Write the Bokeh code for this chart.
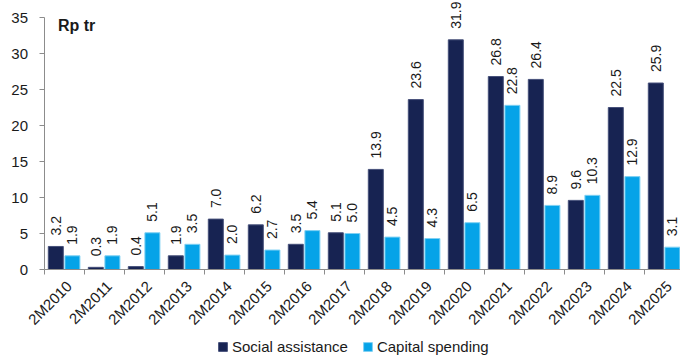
import math
from bokeh.plotting import figure
from bokeh.models import (ColumnDataSource, Range1d, FixedTicker, Legend, LegendItem, Label)
from bokeh.core.properties import value
from bokeh.embed import file_html
from bokeh.resources import INLINE

categories = ["2M2010", "2M2011", "2M2012", "2M2013", "2M2014", "2M2015", "2M2016", "2M2017",
              "2M2018", "2M2019", "2M2020", "2M2021", "2M2022", "2M2023", "2M2024", "2M2025"]
social_assistance = [3.2, 0.3, 0.4, 1.9, 7.0, 6.2, 3.5, 5.1, 13.9, 23.6, 31.9, 26.8, 26.4, 9.6, 22.5, 25.9]
capital_spending = [1.9, 1.9, 5.1, 3.5, 2.0, 2.7, 5.4, 5.0, 4.5, 4.3, 6.5, 22.8, 8.9, 10.3, 12.9, 3.1]
y_ticks = [0, 5, 10, 15, 20, 25, 30, 35]

DARK = "#172352"
LIGHT = "#05a3e8"
FONT = "Liberation Sans"
TXT = "#1a1a1a"

idx = list(range(len(categories)))
src = ColumnDataSource(dict(
    xs=[i - 0.205 for i in idx],
    xc=[i + 0.21 for i in idx],
    s=social_assistance,
    c=capital_spending,
    sl=[f"{v:.1f}" for v in social_assistance],
    cl=[f"{v:.1f}" for v in capital_spending],
))

# frame fills the whole canvas; y=0 at pixel row 269 (7.2 px/unit), categories 40 px wide
PX = 7.2
CW = 40.0
p = figure(frame_width=680, frame_height=363, output_backend="svg", toolbar_location=None,
           x_range=Range1d(-0.5 - 43.5 / CW, -0.5 + (680 - 43.5) / CW),
           y_range=Range1d(-(363 - 269) / PX, 269 / PX),
           min_border_left=0, min_border_right=0, min_border_top=0, min_border_bottom=0)
p.outline_line_color = None
p.xgrid.visible = False
p.ygrid.visible = False
p.background_fill_color = "white"
p.border_fill_color = "white"

r1 = p.vbar(x="xs", top="s", width=0.375, source=src, fill_color=DARK, line_color="#46507a", line_width=1)
r2 = p.vbar(x="xc", top="c", width=0.375, source=src, fill_color=LIGHT, line_color="#7fd0f3", line_width=1)

for xcol, ycol, lcol in (("xs", "s", "sl"), ("xc", "c", "cl")):
    p.text(x=xcol, y=ycol, text=lcol, source=src, angle=math.pi / 2, text_align="left",
           text_baseline="middle", y_offset=-11, text_font=value(FONT), text_font_size="14px",
           text_color=TXT)

# y axis, pinned at the left category boundary
ya = p.yaxis[0]
ya.fixed_location = -0.5
ya.ticker = FixedTicker(ticks=y_ticks)
ya.bounds = (0, 35)
ya.axis_line_color = "#8c8c8c"
ya.major_tick_line_color = "#8c8c8c"
ya.major_tick_out = 5
ya.major_tick_in = 0
ya.minor_tick_line_color = None
ya.major_label_text_font = FONT
ya.major_label_text_font_size = "15px"
ya.major_label_text_color = TXT
ya.major_label_standoff = 11

# x axis, pinned at y = 0; labels anchored slightly right of category centre
label_pos = [i + 0.125 for i in idx]
xa = p.xaxis[0]
xa.fixed_location = 0
xa.bounds = (-0.5, 15.5)
xa.ticker = FixedTicker(ticks=label_pos, minor_ticks=[i - 0.5 for i in range(len(categories) + 1)])
xa.major_label_overrides = {t: c for t, c in zip(label_pos, categories)}
xa.axis_line_color = "#8c8c8c"
xa.major_tick_line_color = None
xa.major_tick_out = 0
xa.major_tick_in = 0
xa.minor_tick_line_color = "#8c8c8c"
xa.minor_tick_out = 5
xa.minor_tick_in = 0
xa.major_label_orientation = math.pi / 4
xa.major_label_text_font = FONT
xa.major_label_text_font_size = "15px"
xa.major_label_text_color = TXT
xa.major_label_standoff = 9

p.add_layout(Label(x=-0.15, y=33.9, text="Rp tr", text_font=FONT, text_font_size="16px",
                   text_font_style="bold", text_color=TXT, text_baseline="middle"))

legend = Legend(items=[LegendItem(label="Social assistance", renderers=[r1]),
                       LegendItem(label="Capital spending", renderers=[r2])],
                orientation="horizontal", location=(217, 8),
                glyph_width=11, glyph_height=11, label_standoff=4, spacing=14,
                padding=0, margin=0, border_line_color=None, background_fill_alpha=0,
                label_text_font=FONT, label_text_font_size="15px", label_text_color=TXT)
p.add_layout(legend, "center")

open("out.html", "w").write(file_html(p, INLINE))
